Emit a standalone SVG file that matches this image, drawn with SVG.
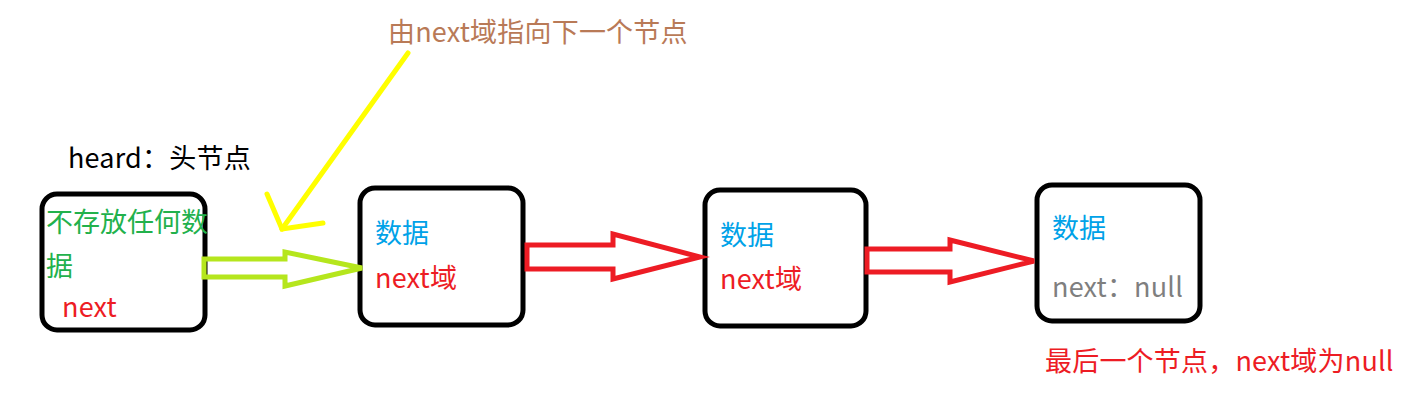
<svg xmlns="http://www.w3.org/2000/svg" width="1403" height="414" viewBox="0 0 1403 414">
<style>
.box{fill:#fff;stroke:#000;stroke-width:5}
text{font-family:"Microsoft YaHei","Noto Sans CJK SC","Noto Sans",sans-serif;font-size:27px}
.ls{letter-spacing:0.2px}
.blue{fill:#00a2e8}.red{fill:#ed1c24}.green{fill:#22b14c}.gray{fill:#7f7f7f}.brown{fill:#b97a57}
.red-arrow{fill:none;stroke:#ed1c24;stroke-width:5;stroke-linejoin:miter}
</style>
<rect width="1403" height="414" fill="#fff"/>
<text x="68" y="168" fill="#000" class="ls">heard：头节点</text>
<text x="388" y="42" class="brown ls">由next域指向下一个节点</text>
<g id="node-head">
<rect class="box" x="42" y="194" width="163" height="136" rx="15"/>
<text x="46" y="232" class="green">不存放任何数</text>
<text x="46" y="276" class="green">据</text>
<text x="62" y="317" class="red ls">next</text>
</g>
<g id="node-2">
<rect class="box" x="360" y="188" width="163" height="137" rx="15"/>
<text x="375" y="243" class="blue">数据</text>
<text x="375" y="288" class="red ls">next域</text>
</g>
<g id="node-3">
<rect class="box" x="705" y="190" width="161" height="136" rx="15"/>
<text x="720" y="245" class="blue">数据</text>
<text x="720" y="289" class="red ls">next域</text>
</g>
<g id="node-4">
<rect class="box" x="1037" y="185" width="163" height="136" rx="15"/>
<text x="1052" y="238" class="blue">数据</text>
<text x="1052" y="297" class="gray ls">next：null</text>
</g>
<text x="1045" y="371" class="red ls">最后一个节点，next域为null</text>
<g id="connectors">
<polygon points="204,259 285,259 285,252 362,268 285,286 285,277 204,277" fill="none" stroke="#b5e61d" stroke-width="5"/>
<polygon class="red-arrow" points="527,245 613,245 613,234 700,257 613,279 613,269 527,269"/>
<polygon class="red-arrow" points="867,249 950,249 950,240 1034,261 950,282 950,272 867,272"/>
<g stroke="#ffff00" stroke-width="5" fill="none" stroke-linecap="round">
<line x1="408" y1="53" x2="282" y2="229"/>
<polyline points="267,194 282,229 323,223"/>
</g>
</g>
</svg>
